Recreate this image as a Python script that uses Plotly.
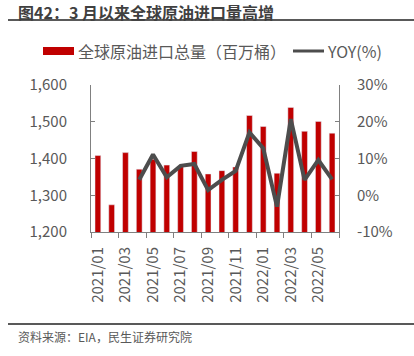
import plotly.graph_objects as go

months = ["2021/01", "2021/02", "2021/03", "2021/04", "2021/05", "2021/06",
          "2021/07", "2021/08", "2021/09", "2021/10", "2021/11", "2021/12",
          "2022/01", "2022/02", "2022/03", "2022/04", "2022/05", "2022/06"]
imports = [1408, 1274, 1416, 1371, 1398, 1382, 1378, 1419, 1358, 1367, 1377, 1517,
           1487, 1360, 1539, 1474, 1501, 1469]
yoy = [None, None, None, 4.2, 11.1, 4.9, 8.0, 8.5, 1.4, 4.2, 6.6, 17.1,
       12.8, -3.1, 20.7, 4.2, 9.6, 4.3]
left_ticks = [1200, 1300, 1400, 1500, 1600]
right_ticks = [-10, 0, 10, 20, 30]
right_labels = ["-10%", "0%", "10%", "20%", "30%"]

W, H = 414, 356
ML, MR, MT, MB = 91, 75, 85, 124
PW, PH = W - ML - MR, H - MT - MB

def px(x):
    return (x - ML) / PW

def py(y):
    return (H - MB - y) / PH

FONT = "Noto Sans CJK SC, Microsoft YaHei, sans-serif"
GRAY = "#595959"
AX = "#808080"
RED = "#C00000"
LINE = "#4D4D4D"

xs = list(range(len(months)))
label_idx = list(range(0, len(months), 2))

fig = go.Figure()
fig.add_trace(go.Bar(x=xs, y=imports, marker_color=RED, width=0.42,
                     name="全球原油进口总量（百万桶）", yaxis="y"))
fig.add_trace(go.Scatter(x=xs, y=yoy, mode="lines", line=dict(color=LINE, width=4),
                         name="YOY(%)", yaxis="y2", connectgaps=False))

fig.update_layout(
    width=W, height=H,
    margin=dict(l=ML, r=MR, t=MT, b=MB, pad=0, autoexpand=False),
    paper_bgcolor="white", plot_bgcolor="white",
    showlegend=False,
    font=dict(family=FONT, color=GRAY, size=15),
    xaxis=dict(range=[-0.5, len(months) - 0.5], tickmode="array",
               tickvals=label_idx, ticktext=[months[i] for i in label_idx],
               tickangle=-90, ticks="", showline=True, linecolor=AX, linewidth=1,
               showgrid=False, zeroline=False, tickfont=dict(size=15, color=GRAY),
               ticklabelstandoff=8, automargin=False,
               minor=dict(tickmode="array",
                          tickvals=[i - 0.5 for i in range(0, len(months) + 1, 2)],
                          ticks="outside", ticklen=5, tickcolor=AX, tickwidth=1,
                          showgrid=False)),
    yaxis=dict(range=[1200, 1600], tickmode="array", tickvals=left_ticks,
               tickformat=",", ticks="inside", ticklen=4, tickcolor=AX,
               showline=True, linecolor=AX, linewidth=1, showgrid=False,
               zeroline=False, tickfont=dict(size=15, color=GRAY),
               ticklabelstandoff=20, automargin=False),
    yaxis2=dict(range=[-10, 30], tickmode="array", tickvals=right_ticks,
                ticktext=right_labels, overlaying="y", side="right", anchor="x",
                ticks="inside", ticklen=4, tickcolor=AX,
                showline=True, linecolor=AX, linewidth=1, showgrid=False,
                zeroline=False, tickfont=dict(size=15, color=GRAY),
                ticklabelstandoff=14, automargin=False),
)

# title and rules
fig.add_annotation(xref="paper", yref="paper", x=px(16), y=py(12), xanchor="left",
                   yanchor="middle", showarrow=False,
                   text="<b>图42：3 月以来全球原油进口量高增</b>",
                   font=dict(family=FONT, size=16, color="#404040"))
fig.add_shape(type="line", xref="paper", yref="paper", x0=px(8), x1=px(414),
              y0=py(20), y1=py(20), line=dict(color=GRAY, width=2))
fig.add_shape(type="line", xref="paper", yref="paper", x0=px(8), x1=px(414),
              y0=py(324), y1=py(324), line=dict(color=GRAY, width=2))
fig.add_annotation(xref="paper", yref="paper", x=px(16), y=py(336), xanchor="left",
                   yanchor="middle", showarrow=False,
                   text="资料来源：EIA，民生证券研究院",
                   font=dict(family=FONT, size=12, color=GRAY))

# legend
fig.add_shape(type="rect", xref="paper", yref="paper", x0=px(43), x1=px(74),
              y0=py(47), y1=py(55), fillcolor=RED, line=dict(width=0))
fig.add_annotation(xref="paper", yref="paper", x=px(76), y=py(51), xanchor="left",
                   yanchor="middle", showarrow=False,
                   text="全球原油进口总量（百万桶）",
                   font=dict(family=FONT, size=16, color=GRAY))
fig.add_shape(type="line", xref="paper", yref="paper", x0=px(293), x1=px(324),
              y0=py(51), y1=py(51), line=dict(color=LINE, width=3))
fig.add_annotation(xref="paper", yref="paper", x=px(325), y=py(51), xanchor="left",
                   yanchor="middle", showarrow=False, text="YOY(%)",
                   font=dict(family=FONT, size=16, color=GRAY))

fig.write_html("out.html",
               config={"displayModeBar": False, "staticPlot": True},
               post_script="document.body.style.margin='0';document.body.style.overflow='hidden';")
